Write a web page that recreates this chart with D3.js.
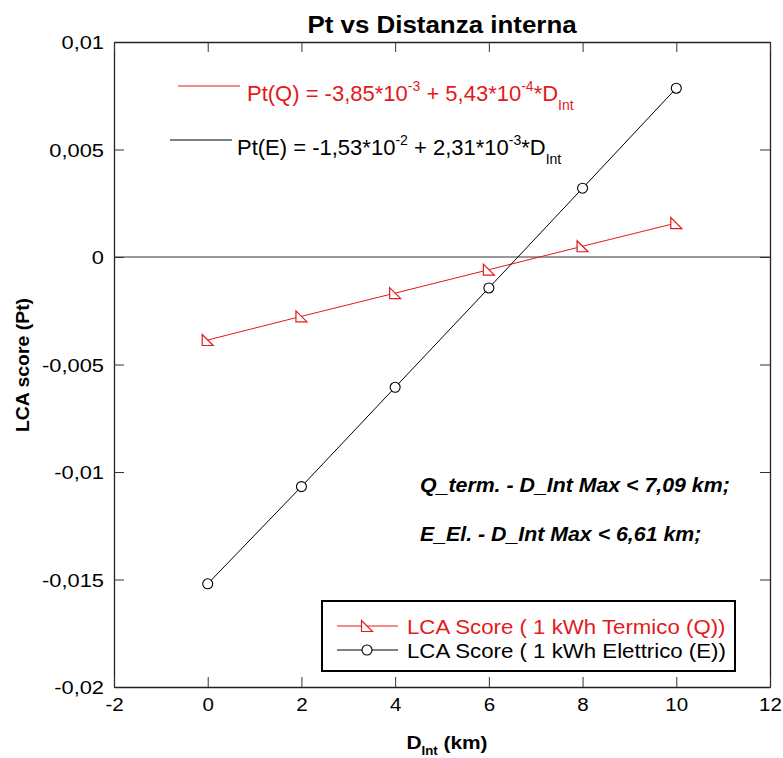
<!DOCTYPE html>
<html><head><meta charset="utf-8">
<script src="https://cdn.jsdelivr.net/npm/d3@7"></script>
<style>body{margin:0;background:#fff}svg{font-family:"Liberation Sans",Arial,sans-serif}</style>
</head><body><div id="chart"></div>
<script>
const distances = [0, 2, 4, 6, 8, 10];
const termicoQ = [-0.00386, -0.00276, -0.00168, -0.00059, 0.00050, 0.00158];
const elettricoE = [-0.0152, -0.01068, -0.00606, -0.00144, 0.00320, 0.00785];
const xTicks = [-2, 0, 2, 4, 6, 8, 10, 12];
const yTicks = [0.01, 0.005, 0, -0.005, -0.01, -0.015, -0.02];
const yTickLabels = ["0,01", "0,005", "0", "-0,005", "-0,01", "-0,015", "-0,02"];
const legendLabels = ["LCA Score ( 1 kWh Termico (Q))", "LCA Score ( 1 kWh Elettrico (E))"];
const annotations = ["Q_term. - D_Int Max < 7,09 km;", "E_El. - D_Int Max < 6,61 km;"];

const W = 783, H = 758;
const L = 114, R = 770, T = 42, B = 687;
const RED = "#e31a1c";
const svg = d3.select("#chart").append("svg").attr("width", W).attr("height", H);

const x = d3.scaleLinear().domain([-2, 12]).range([L, R]);
const y = d3.scaleLinear().domain([-0.02, 0.01]).range([B, T]);

// stretched text helper
function stext(parent, px, py, sx, size) {
  return parent.append("text").attr("transform", `translate(${px},${py}) scale(${sx},1)`)
    .attr("font-size", size);
}

// zero line
svg.append("line").attr("x1", L).attr("x2", R).attr("y1", y(0)).attr("y2", y(0))
  .attr("stroke", "#777").attr("stroke-width", 1.6);

// axes with inward ticks
const tl = 10;
const fmtY = d => yTickLabels[yTicks.indexOf(d)];
const gl = svg.append("g").attr("transform", `translate(${L},0)`)
  .call(d3.axisLeft(y).tickValues(yTicks).tickSizeInner(-tl).tickSizeOuter(0).tickPadding(0).tickFormat(fmtY));
const gr = svg.append("g").attr("transform", `translate(${R},0)`)
  .call(d3.axisRight(y).tickValues(yTicks).tickSizeInner(-tl).tickSizeOuter(0).tickFormat(""));
const gb = svg.append("g").attr("transform", `translate(0,${B})`)
  .call(d3.axisBottom(x).tickValues(xTicks).tickSizeInner(-tl).tickSizeOuter(0).tickPadding(0).tickFormat(d => String(d)));
const gt = svg.append("g").attr("transform", `translate(0,${T})`)
  .call(d3.axisTop(x).tickValues(xTicks).tickSizeInner(-tl).tickSizeOuter(0).tickFormat(""));
[gl, gr, gb, gt].forEach(g => {
  g.selectAll(".domain").attr("stroke", "#222").attr("stroke-width", 1.3);
  g.selectAll(".tick line").attr("stroke", "#333");
  g.selectAll("text").attr("fill", "#000")
    .attr("font-family", "'Liberation Sans', Arial, sans-serif");
});
gl.selectAll("text").attr("font-size", 19).attr("x", 0).attr("dy", "0.36em")
  .attr("transform", "translate(-10,0) scale(1.15,1)");
gb.selectAll("text").attr("font-size", 19).attr("y", 0).attr("dy", "0.71em")
  .attr("transform", "translate(0,11) scale(1.08,1)");

// lines
const line = d3.line().x((d, i) => x(distances[i])).y(d => y(d));
svg.append("path").datum(termicoQ).attr("d", line).attr("fill", "none").attr("stroke", RED).attr("stroke-width", 1);
svg.append("path").datum(elettricoE).attr("d", line).attr("fill", "none").attr("stroke", "#000").attr("stroke-width", 1);

const tri = "M-5.5,-5.5 L-5.5,5.5 L5.5,5.5 Z";
svg.selectAll(".tq").data(termicoQ).enter().append("path")
  .attr("d", tri).attr("transform", (d, i) => `translate(${x(distances[i])},${y(d)})`)
  .attr("fill", "#fff").attr("stroke", RED).attr("stroke-width", 1.2);
svg.selectAll(".ce").data(elettricoE).enter().append("circle")
  .attr("cx", (d, i) => x(distances[i])).attr("cy", d => y(d)).attr("r", 5)
  .attr("fill", "#fff").attr("stroke", "#000").attr("stroke-width", 1.1);

// title
stext(svg, 442, 33, 1.08, 24).attr("text-anchor", "middle").attr("font-weight", "bold")
  .text("Pt vs Distanza interna");

// y label
svg.append("text").attr("transform", `translate(29,365) rotate(-90) scale(1.08,1)`).attr("text-anchor", "middle")
  .attr("font-size", 18).attr("font-weight", "bold").text("LCA score (Pt)");

// x label
const xl = stext(svg, 447, 749, 1.1, 19).attr("font-weight", "bold").attr("text-anchor", "middle");
xl.append("tspan").text("D");
xl.append("tspan").attr("font-size", 12).attr("dy", 6).text("Int");
xl.append("tspan").attr("dy", -6).text(" (km)");

// equations
function eq(yLine, x1, x2, tx, ty, color, parts) {
  svg.append("line").attr("x1", x1).attr("x2", x2).attr("y1", yLine).attr("y2", yLine)
    .attr("stroke", color).attr("stroke-width", 1);
  const t = svg.append("text").attr("x", tx).attr("y", ty).attr("font-size", 22).attr("fill", color);
  let cur = 0;
  parts.forEach(p => {
    const target = p.s === "sup" ? -10 : p.s === "sub" ? 9 : 0;
    t.append("tspan").attr("dy", target - cur).attr("font-size", p.s ? 14 : 22).text(p.t);
    cur = target;
  });
}
eq(86, 178, 240, 247, 101, RED, [
  {t: "Pt(Q) = -3,85*10"}, {t: "-3", s: "sup"}, {t: " + 5,43*10"}, {t: "-4", s: "sup"},
  {t: "*D"}, {t: "Int", s: "sub"}]);
eq(140, 170, 232, 237, 155, "#000", [
  {t: "Pt(E) = -1,53*10"}, {t: "-2", s: "sup"}, {t: " + 2,31*10"}, {t: "-3", s: "sup"},
  {t: "*D"}, {t: "Int", s: "sub"}]);

// annotations
annotations.forEach((a, i) => {
  stext(svg, 420, 492 + i * 49, 1.04, 20.5)
    .attr("font-weight", "bold").attr("font-style", "italic").text(a);
});

// legend
const lg = svg.append("g");
lg.append("rect").attr("x", 322).attr("y", 601).attr("width", 413).attr("height", 70)
  .attr("fill", "#fff").attr("stroke", "#000").attr("stroke-width", 2);
const lcol = [RED, "#000"];
legendLabels.forEach((lab, i) => {
  const yy = 626 + i * 24;
  lg.append("line").attr("x1", 337).attr("x2", 398).attr("y1", yy).attr("y2", yy)
    .attr("stroke", lcol[i]).attr("stroke-width", 1);
  if (i === 0) {
    lg.append("path").attr("d", tri).attr("transform", `translate(367,${yy})`)
      .attr("fill", "#fff").attr("stroke", RED).attr("stroke-width", 1.2);
  } else {
    lg.append("circle").attr("cx", 367).attr("cy", yy).attr("r", 5)
      .attr("fill", "#fff").attr("stroke", "#000").attr("stroke-width", 1.1);
  }
  stext(lg, 407, yy + 8, 1.06, 21).attr("fill", lcol[i]).text(lab);
});
</script></body></html>
